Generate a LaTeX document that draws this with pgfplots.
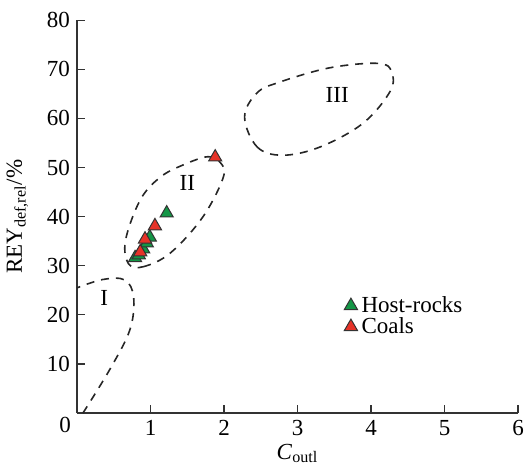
\documentclass[border=0pt]{standalone}
\usepackage{pgfplots}
\pgfplotsset{compat=1.18}
\usepackage{fontspec}
\setmainfont{Liberation Serif}
\definecolor{hgreen}{RGB}{20,150,70}
\definecolor{cred}{RGB}{230,50,40}
\newcommand{\fs}{\fontsize{11.5}{13}\selectfont}
\begin{document}
\begin{tikzpicture}
\begin{axis}[
  width=220.5pt, height=196.5pt, scale only axis,
  xmin=0, xmax=6, ymin=0, ymax=80,
  axis x line*=bottom, axis y line*=left,
  axis line style={line width=0.8pt, black!80},
  tick align=inside, major tick length=4pt,
  tick style={black!80, line width=0.6pt},
  xtick={1,2,3,4,5,6}, ytick={10,20,...,80},
  /pgf/number format/assume math mode=true,
  ticklabel style={font=\fs},
  label style={font=\fs},
  xlabel={\textit{C}\textsubscript{outl}},
  ylabel={REY\textsubscript{def,rel}/\%},
  xlabel style={at={(axis description cs:0.5,-0.072)}, anchor=north, inner sep=1pt},
  ylabel style={at={(axis description cs:-0.095,0.5)}, anchor=south},
  legend style={draw=none, fill=none, at={(axis cs:3.55,25.5)}, anchor=north west,
    font=\fs, row sep=-3pt},
  legend cell align=left,
  clip=false,
]
% regions
\addplot[black!85, line width=0.8pt, dash pattern=on 4pt off 3.5pt, smooth, tension=0.6, forget plot] coordinates {
 (0.08,0) (0.45,9) (0.72,17) (0.77,23.6) (0.65,27.1) (0.35,27.2) (0.0,25.5)};
\addplot[black!85, line width=0.8pt, dash pattern=on 4pt off 3.5pt, smooth cycle, tension=0.6, forget plot] coordinates {
 (0.7,30.4) (0.9,29.8) (1.27,32.6) (1.71,39.9) (1.99,48) (1.95,51) (1.78,52.2) (1.44,50.5) (1.13,48) (0.86,43.4) (0.66,35.2)};
\addplot[black!85, line width=0.8pt, dash pattern=on 4pt off 3.5pt, smooth cycle, tension=0.6, forget plot] coordinates {
 (2.28,60.3) (2.45,54.2) (2.8,52.5) (3.31,54.2) (3.89,59) (4.26,65.5) (4.28,69.5) (4.1,71.2) (3.44,70.3) (2.76,67.4) (2.45,65.2)};
\node at (axis cs:0.37,23.4) {\fs I};
\node at (axis cs:1.5,46.8) {\fs II};
\node at (axis cs:3.54,64.8) {\fs III};
% data
\addplot[only marks, mark=triangle*, mark size=3.8pt, mark options={fill=hgreen, draw=black!80, line width=0.5pt}] coordinates {
 (0.79,31.6) (0.84,32.2) (0.9,33.4) (0.95,34.6) (0.99,35.8) (1.22,40.7)};
\addlegendentry{Host-rocks}
\addplot[only marks, mark=triangle*, mark size=3.8pt, mark options={fill=cred, draw=black!80, line width=0.5pt}] coordinates {
 (0.86,32.8) (0.925,35.4) (1.06,38.1) (1.88,52.1)};
\addlegendentry{Coals}
\node[anchor=north east, inner sep=1pt] at (axis cs:-0.05,-0.3) {\fs 0};
\coordinate (bl) at (axis cs:-1.048,-11.6);
\coordinate (tr) at (axis cs:6.095,84.1);
\end{axis}
\pgfresetboundingbox
\path[use as bounding box] (bl) rectangle (tr);
\end{tikzpicture}
\end{document}
